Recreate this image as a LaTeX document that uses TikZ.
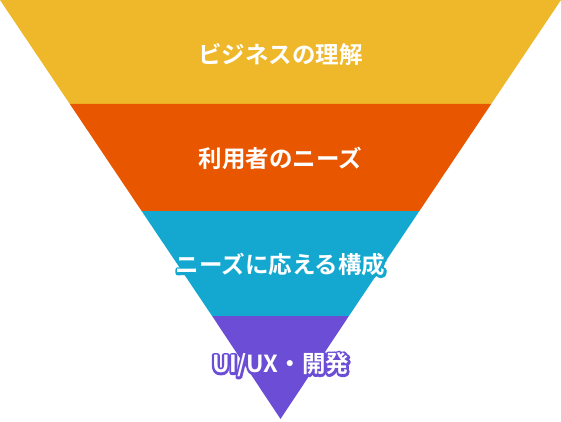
\documentclass[tikz,border=0pt]{standalone}
\usepackage{fontspec}
\newfontfamily\jp{Noto Sans CJK JP}[BoldFont={Noto Sans CJK JP Bold}]
\definecolor{cyellow}{RGB}{239,184,42}
\definecolor{corange}{RGB}{232,86,0}
\definecolor{cblue}{RGB}{20,168,208}
\definecolor{cpurple}{RGB}{108,78,214}
\tikzset{
  lbl/.style={font=\jp\bfseries\fontsize{23.5}{26}\selectfont, text=white, inner sep=0pt},
}
% outline copy: stroke-only text rendering in the band colour
\newcommand{\halolabel}[5]{% name, position, color, rgb triple, text
  \node[lbl, text=#3] (#1h) at (#2) {\special{pdf:literal direct 1 Tr 4.5 w 1 j 1 J #4 RG}#5\special{pdf:literal direct 0 Tr}};
  \node[lbl] (#1) at (#2) {#5};
}
\begin{document}
\begin{tikzpicture}[x=1pt,y=-1pt]
\useasboundingbox (0,0) rectangle (561,422);
\coordinate (tl) at (0,0);
\coordinate (tr) at (561,0);
\coordinate (l1) at (69.8,104);
\coordinate (r1) at (491.2,104);
\coordinate (l2) at (141.6,211);
\coordinate (r2) at (419.4,211);
\coordinate (l3) at (212.1,316);
\coordinate (r3) at (348.9,316);
\coordinate (apex) at (280.5,419);
\fill[cyellow] (tl) -- (tr) -- (r1) -- (l1) -- cycle;
\fill[corange] (l1) -- (r1) -- (r2) -- (l2) -- cycle;
\fill[cblue] (l2) -- (r2) -- (r3) -- (l3) -- cycle;
\fill[cpurple] (l3) -- (r3) -- (apex) -- cycle;
\coordinate (p1) at (280.5,55);
\coordinate (p2) at (280.5,158);
\coordinate (p3) at (280.5,265);
\coordinate (p4) at (280.5,365);
\halolabel{t1}{p1}{cyellow}{0.937 0.722 0.165}{ビジネスの理解}
\halolabel{t2}{p2}{corange}{0.910 0.337 0}{利用者のニーズ}
\halolabel{t3}{p3}{cblue}{0.078 0.659 0.816}{ニーズに応える構成}
\halolabel{t4}{p4}{cpurple}{0.424 0.306 0.839}{UI/UX・開発}
\end{tikzpicture}
\end{document}
